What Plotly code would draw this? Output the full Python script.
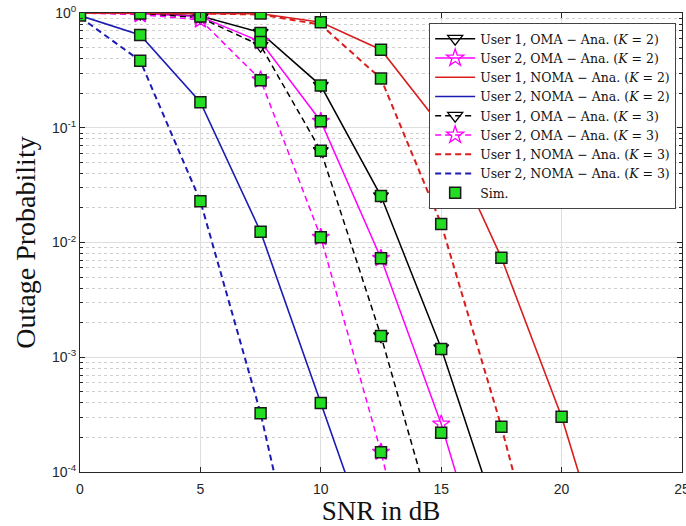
import plotly.graph_objects as go

snr = [0, 2.5, 5, 7.5, 10, 12.5, 15, 17.5, 20, 22.5, 25]

u1_oma_k2 = [1.0, 0.995, 0.94, 0.675, 0.233, 0.0254, 1.2e-3, 3.1e-5]
u2_oma_k2 = [1.0, 0.99, 0.93, 0.563, 0.114, 0.00728, 2.62e-4, 4.7e-6]
u1_noma_k2 = [1.0, 1.0, 0.995, 0.985, 0.83, 0.479, 0.102, 0.00737, 3.03e-4, 5.7e-6]
u2_noma_k2 = [0.95, 0.643, 0.167, 0.0124, 4.0e-4, 1.26e-5]
u1_oma_k3 = [1.0, 0.99, 0.91, 0.52, 0.063, 1.53e-3, 2.2e-5]
u2_oma_k3 = [1.0, 0.97, 0.87, 0.262, 0.0111, 1.49e-4, 1.1e-6]
u1_noma_k3 = [1.0, 1.0, 0.99, 0.97, 0.79, 0.268, 0.0145, 2.48e-4, 2.5e-6]
u2_noma_k3 = [0.92, 0.384, 0.0229, 3.25e-4, 1.6e-6]

sim_snr = [0, 2.5, 2.5, 2.5, 5, 5, 5, 5,
           7.5, 7.5, 7.5, 7.5, 7.5, 7.5,
           10, 10, 10, 10, 10, 10,
           12.5, 12.5, 12.5, 12.5, 12.5, 12.5,
           15, 15, 15, 15, 17.5, 17.5, 20]
sim_pout = [0.95, 0.99, 0.643, 0.384, 0.99, 0.93, 0.167, 0.0229,
            0.99, 0.67, 0.56, 0.26, 0.0124, 3.25e-4,
            0.83, 0.233, 0.114, 0.063, 0.0111, 4.0e-4,
            0.479, 0.268, 0.0254, 0.00728, 1.53e-3, 1.49e-4,
            0.102, 0.0145, 1.18e-3, 2.2e-4, 0.00737, 2.48e-4, 3.03e-4]

ytick_vals = [1e-4, 1e-3, 1e-2, 1e-1, 1]
ytick_text = ["10<sup>-4</sup>", "10<sup>-3</sup>", "10<sup>-2</sup>", "10<sup>-1</sup>", "10<sup>0</sup>"]

BLACK = "#000000"
MAG = "#ff00ff"
RED = "#d91e1e"
BLUE = "#1c1cb4"
DASH = "6px,4px"
SERIF = "Liberation Serif, Times New Roman, serif"

def lab(u, scheme, k):
    return f"User {u}, {scheme} − Ana. (<i>K</i> = {k})"

fig = go.Figure()

def add(y, name, color, dash, width, symbol=None):
    kw = {}
    mode = "lines"
    if symbol:
        mode = "lines+markers"
        kw["marker"] = dict(symbol=symbol, size=13, color=color,
                            line=dict(color=color, width=1.3))
    fig.add_trace(go.Scatter(x=snr[:len(y)], y=y, name=name, mode=mode,
                             line=dict(color=color, width=width, dash=dash), **kw))

add(u1_oma_k2, lab(1, "OMA", 2), BLACK, "solid", 1.5, "triangle-down-open")
add(u2_oma_k2, lab(2, "OMA", 2), MAG, "solid", 1.5, "star-open")
add(u1_noma_k2, lab(1, "NOMA", 2), RED, "solid", 1.6)
add(u2_noma_k2, lab(2, "NOMA", 2), BLUE, "solid", 1.6)
add(u1_oma_k3, lab(1, "OMA", 3), BLACK, DASH, 1.5, "triangle-down-open")
add(u2_oma_k3, lab(2, "OMA", 3), MAG, DASH, 1.5, "star-open")
add(u1_noma_k3, lab(1, "NOMA", 3), RED, DASH, 2)
add(u2_noma_k3, lab(2, "NOMA", 3), BLUE, DASH, 2)

fig.add_trace(go.Scatter(x=sim_snr, y=sim_pout, name="Sim.", mode="markers",
                         marker=dict(symbol="square", size=11, color="#22dd22",
                                     line=dict(color="#1a1a1a", width=1.5))))

minor_vals = [m * 10 ** e for e in range(-4, 0) for m in range(2, 10)]

fig.update_layout(
    width=686, height=526,
    margin=dict(l=80, r=4, t=13, b=54, autoexpand=False),
    paper_bgcolor="white", plot_bgcolor="white",
    font=dict(family="Liberation Sans, Arial, sans-serif", size=13, color="#262626"),
    legend=dict(x=0.58, y=0.978, xanchor="left", yanchor="top",
                bgcolor="white", bordercolor="#444444", borderwidth=1,
                font=dict(family="DejaVu Serif, serif", size=12.5, color="#111111"),
                tracegroupgap=0, itemwidth=40),
    showlegend=True,
)

fig.update_xaxes(
    range=[0, 25], tickvals=[0, 5, 10, 15, 20, 25],
    ticks="inside", ticklen=5, tickcolor="#262626",
    showline=True, linecolor="#262626", linewidth=1, mirror="allticks",
    showgrid=True, gridcolor="#dedede", gridwidth=1, zeroline=False,
    tickfont=dict(size=14, color="#262626"), ticklabelstandoff=4,
    ticklabeloverflow="allow", automargin=False,
    title=dict(text="SNR in dB", standoff=4,
               font=dict(family=SERIF, size=27, color="#111111")),
)
fig.update_yaxes(
    type="log", range=[-4, 0], tickvals=ytick_vals, ticktext=ytick_text,
    ticks="inside", ticklen=5, tickcolor="#262626",
    showline=True, linecolor="#262626", linewidth=1, mirror="allticks",
    showgrid=True, gridcolor="#dedede", gridwidth=1, zeroline=False,
    tickfont=dict(size=14, color="#262626"), automargin=False,
    minor=dict(tickvals=minor_vals, ticks="inside", ticklen=3, tickcolor="#262626",
               showgrid=True, gridcolor="#cfcfcf", griddash="dot", gridwidth=1),
    title=dict(text="Outage Probability", standoff=8,
               font=dict(family=SERIF, size=28, color="#111111")),
)

fig.write_html("out.html")
